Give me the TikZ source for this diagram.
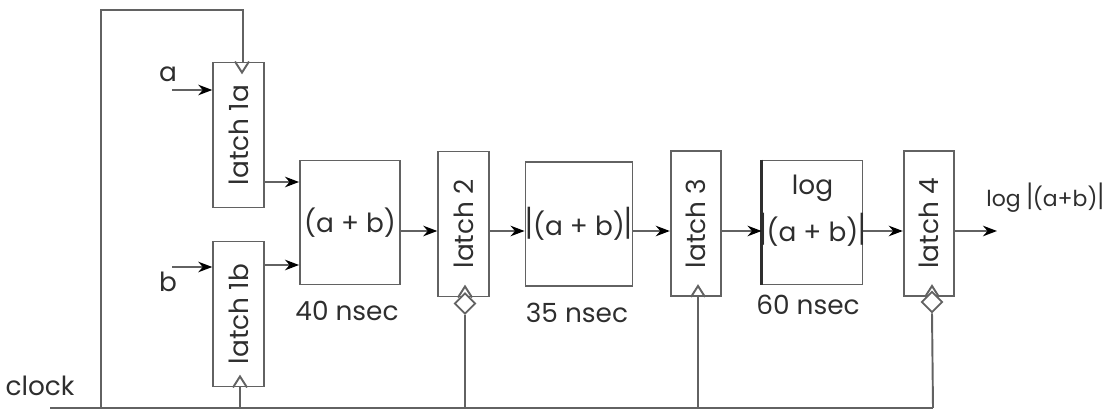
\documentclass[tikz,border=0pt]{standalone}
\usepackage{fontspec}
\setmainfont{Poppins}
\usetikzlibrary{arrows.meta,shapes.geometric}

\definecolor{wire}{HTML}{626262}
\definecolor{ink}{HTML}{2E2E2E}

\newcommand{\tbar}{\scalebox{1}[1.35]{|}}

\tikzset{
	latch/.style={draw=wire, line width=1.1pt, minimum width=1.01cm, minimum height=2.9cm, inner sep=0pt, text=ink},
	stage/.style={draw=wire, line width=1.1pt, minimum width=2cm, minimum height=2.48cm, inner sep=0pt, text=ink, align=center},
	sig/.style={draw=wire, line width=1.1pt, -{Stealth[length=8pt,width=6pt,black]}},
	clk/.style={draw=wire, line width=1.1pt},
	bubble/.style={draw=wire, line width=1pt, diamond, inner sep=0pt, minimum size=12pt, fill=white},
	lbl/.style={text=ink, inner sep=0pt}
}

\begin{document}
\begin{tikzpicture}[x=0.02cm, y=-0.02cm, font=\fontsize{15}{18}\selectfont]
	\useasboundingbox (0,0) rectangle (1112,411);

	% latches and stages
	\node[latch] (L1a) at (238.5,135) {\rotatebox{90}{latch 1a}};
	\node[latch] (L1b) at (238.5,314) {\rotatebox{90}{latch 1b}};
	\node[stage] (sum) at (350,222.5) {(a + b)};
	\node[latch] (L2) at (463.5,224) {\rotatebox{90}{latch 2}};
	\node[stage] (abs) at (579,224) {\tbar(a + b)\tbar};
	\node[latch] (L3) at (696,223.5) {\rotatebox{90}{latch 3}};
	\node[stage] (logb) at (812.5,222.5) {};
	\node[latch] (L4) at (929,223.5) {\rotatebox{90}{latch 4}};
	\draw[ink, line width=1.8pt] (logb.north west) -- (logb.south west);
	\node[lbl] (logt) at (812.5,188) {log};
	\node[lbl] (logv) at (812.5,230) {\tbar(a + b)\tbar};

	% labels
	\node[lbl] (a) at (168,74) {a};
	\node[lbl] (b) at (168,282) {b};
	\node[lbl, anchor=west, font=\fontsize{12.5}{15}\selectfont] (out) at (986,198) {log \tbar(a+b)\tbar};
	\node[lbl] (clock) at (40,386) {clock};
	\node[lbl] (t1) at (347,311) {40 nsec};
	\node[lbl] (t2) at (577,313) {35 nsec};
	\node[lbl] (t3) at (808,305) {60 nsec};

	% data path
	\coordinate (ain) at (172,90);
	\coordinate (bin) at (172,267);
	\coordinate (dout) at (997,231);
	\draw[sig] (ain) -- (L1a.west |- ain);
	\draw[sig] (bin) -- (L1b.west |- bin);
	\draw[sig] (L1a.east |- 0,182) -- (sum.west |- 0,182);
	\draw[sig] (L1b.east |- 0,265) -- (sum.west |- 0,265);
	\draw[sig] (sum.east |- 0,231) -- (L2.west |- 0,231);
	\draw[sig] (L2.east |- 0,231) -- (abs.west |- 0,231);
	\draw[sig] (abs.east |- 0,231) -- (L3.west |- 0,231);
	\draw[sig] (L3.east |- 0,231) -- (logb.west |- 0,231);
	\draw[sig] (logb.east |- 0,231) -- (L4.west |- 0,231);
	\draw[sig] (L4.east |- dout) -- (dout);

	% clock
	\coordinate (c0) at (50,408);
	\coordinate (c1) at (933,408);
	\coordinate (top) at (101,10);
	\node[bubble] (d2) at (465,303.5) {};
	\node[bubble] (d4) at (932,302) {};
	\draw[clk] (c0) -- (c1);
	\draw[clk] (c0 -| top) -- (top) -- (top -| 243,0) -- (L1a.north -| 243,0);
	\draw[clk] (L1b.south -| 240,0) -- (c0 -| 240,0);
	\draw[clk] (d2.south) -- (c0 -| d2.south);
	\draw[clk] (L3.south -| 698,0) -- (c0 -| 698,0);
	\draw[clk] (d4.south) -- (c1);

	% clock wedges
	\draw[clk] (L1a.north -| 235,0) -- ++(7,11) -- ++(7,-11);
	\draw[clk] (L1b.south -| 233,0) -- ++(7,-11) -- ++(7,11);
	\draw[clk] (L2.south -| 458,0) -- ++(7,-11) -- ++(7,11);
	\draw[clk] (L3.south -| 691,0) -- ++(7,-11) -- ++(7,11);
	\draw[clk] (L4.south -| 925,0) -- ++(7,-11) -- ++(7,11);
\end{tikzpicture}
\end{document}
